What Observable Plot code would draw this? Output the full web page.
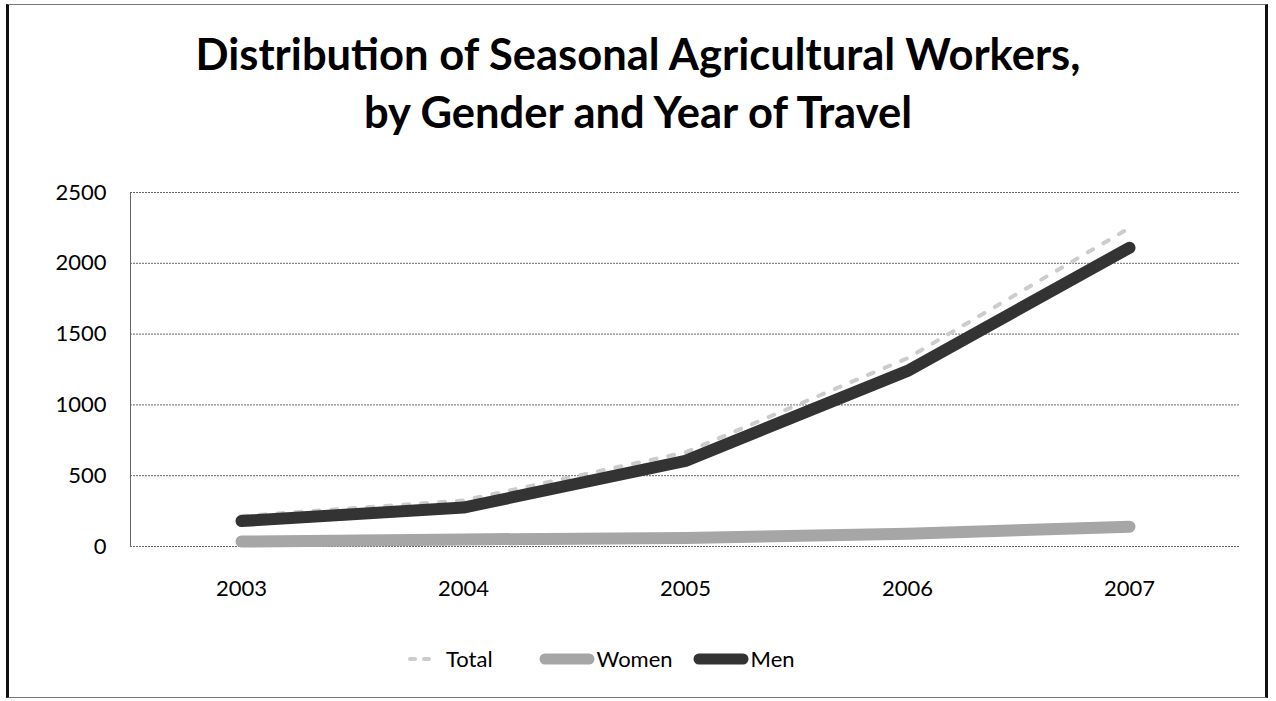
<!DOCTYPE html>
<html>
<head>
<meta charset="utf-8">
<script src="https://cdn.jsdelivr.net/npm/d3@7"></script>
<script src="https://cdn.jsdelivr.net/npm/@observablehq/plot@0.6"></script>
<style>
  html, body { margin: 0; padding: 0; background: #fff; }
  #wrap { position: relative; width: 1276px; height: 701px; overflow: hidden; font-family: Lato, "Open Sans", sans-serif; }
  #border { position: absolute; left: 6px; top: 4px; width: 1262px; height: 694px; border: 1px solid #777; border-left: 3px solid #111; border-right: 3px solid #111; box-sizing: border-box; }
  #title { position: absolute; left: 0; top: 24px; width: 1276px; text-align: center; font-weight: 700; font-size: 43.5px; line-height: 58px; color: #000; }
  #chart { position: absolute; left: 0; top: 170px; }
  #legend { position: absolute; left: 404px; top: 645px; display: flex; align-items: center; font-size: 22px; color: #000; }
  .item { display: flex; align-items: center; }
  .item svg { margin-right: 2px; }
</style>
</head>
<body>
<div id="wrap">
  <div id="border"></div>
  <div id="title">Distribution of Seasonal Agricultural Workers,<br>by Gender and Year of Travel</div>
  <div id="chart"></div>
  <div id="legend"></div>
</div>
<script>
const years = ["2003", "2004", "2005", "2006", "2007"];
const totalValues = [215, 325, 665, 1330, 2250];
const womenValues = [35, 50, 60, 90, 140];
const menValues = [180, 275, 605, 1240, 2110];
const yTicks = [0, 500, 1000, 1500, 2000, 2500];
const seriesNames = ["Total", "Women", "Men"];
const seriesColors = ["#cccccc", "#a6a6a6", "#333333"];

const data = [];
years.forEach((y, i) => {
  data.push({year: y, value: totalValues[i], series: "Total"});
  data.push({year: y, value: womenValues[i], series: "Women"});
  data.push({year: y, value: menValues[i], series: "Men"});
});

const chart = Plot.plot({
  width: 1276,
  height: 450,
  marginLeft: 130,
  marginRight: 36,
  marginTop: 22,
  marginBottom: 74,
  style: {fontFamily: "Lato, 'Open Sans', sans-serif", fontSize: "22px", color: "#000", background: "transparent"},
  x: {type: "point", domain: years, padding: 0.5, label: null, tickSize: 0, tickPadding: 34},
  y: {domain: [0, 2500], ticks: yTicks, tickFormat: d => String(d), label: null, tickSize: 0, tickPadding: 24},
  color: {domain: seriesNames, range: seriesColors},
  marks: [
    Plot.gridY(yTicks, {stroke: "#666", strokeOpacity: 1, strokeDasharray: "2,1"}),
    Plot.frame({anchor: "left", stroke: "#666", strokeDasharray: "2,1"}),
    Plot.line(data.filter(d => d.series === "Women"), {x: "year", y: "value", stroke: "series", strokeWidth: 12, strokeLinecap: "round", strokeLinejoin: "round"}),
    Plot.line(data.filter(d => d.series === "Total"), {x: "year", y: "value", stroke: "series", strokeWidth: 4, strokeDasharray: "6,12", strokeLinecap: "round", strokeLinejoin: "round"}),
    Plot.line(data.filter(d => d.series === "Men"), {x: "year", y: "value", stroke: "series", strokeWidth: 12, strokeLinecap: "round", strokeLinejoin: "round"})
  ]
});
document.getElementById("chart").appendChild(chart);

const legend = document.getElementById("legend");
const gaps = [46, 20, 0];
seriesNames.forEach((name, i) => {
  const item = document.createElement("div");
  item.className = "item";
  item.style.marginRight = gaps[i] + "px";
  const dash = name === "Total" ? 'stroke-dasharray="5,9" stroke-width="4"' : 'stroke-width="11"';
  const w = name === "Total" ? 40 : 56;
  item.innerHTML = `<svg width="${w}" height="14"><line x1="6" y1="7" x2="${w - 6}" y2="7" stroke="${seriesColors[i]}" ${dash} stroke-linecap="round"/></svg><span>${name}</span>`;
  legend.appendChild(item);
});
</script>
</body>
</html>
